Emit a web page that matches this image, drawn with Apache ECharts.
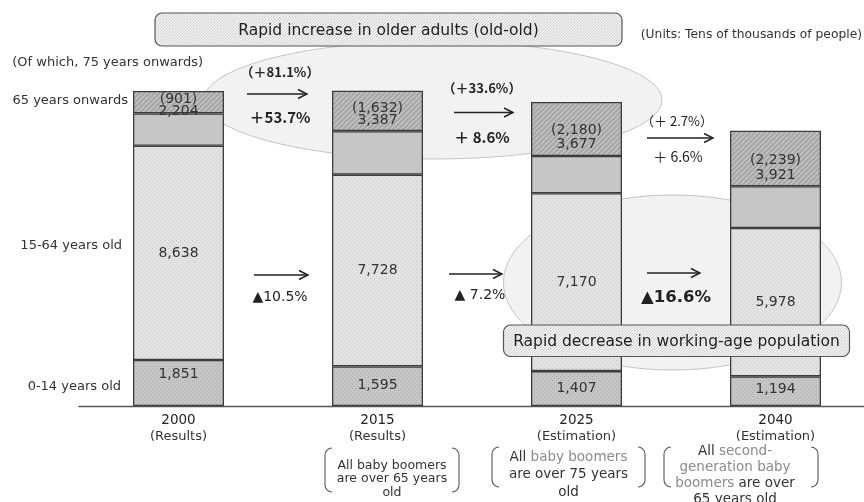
<!DOCTYPE html>
<html>
<head>
<meta charset="utf-8">
<script src="https://cdn.jsdelivr.net/npm/echarts@6/dist/echarts.min.js"></script>
<style>html,body{margin:0;padding:0;background:#fff}#c{width:864px;height:502px}</style>
</head>
<body>
<div id="c"></div>
<script>
// ---- data ----
const categories = ['2000', '2015', '2025', '2040'];
const categoryNotes = ['(Results)', '(Results)', '(Estimation)', '(Estimation)'];
const children = [1851, 1595, 1407, 1194];      // 0-14
const working = [8638, 7728, 7170, 5978];       // 15-64
const elderly65 = [2204, 3387, 3677, 3921];     // 65+
const old75 = [901, 1632, 2180, 2239];          // of which 75+
const rowLabels = ['(Of which, 75 years onwards)', '65 years onwards', '15-64 years old', '0-14 years old'];
const change75 = ['（＋81.1%）', '（＋33.6%）', '（＋ 2.7%）'];
const change65 = ['＋53.7%', '＋ 8.6%', '＋ 6.6%'];
const changeWork = ['▲10.5%', '▲ 7.2%', '▲16.6%'];
const titleTop = 'Rapid increase in older adults (old-old)';
const titleBottom = 'Rapid decrease in working-age population';
const unitsText = '(Units: Tens of thousands of people)';

const young65to74 = elderly65.map((v, i) => v - old75[i]);
const fmt = v => v.toLocaleString('en-US');

const F = '"DejaVu Sans", "Noto Sans CJK JP", sans-serif';
const FJ = '"Noto Sans CJK JP", "DejaVu Sans", sans-serif';

function pattern(w, h, draw) {
  const c = document.createElement('canvas');
  c.width = w; c.height = h;
  const g = c.getContext('2d');
  draw(g, w, h);
  return { image: c, repeat: 'repeat' };
}
function dots(bg, dot) {
  return pattern(4, 4, (g) => {
    g.fillStyle = bg; g.fillRect(0, 0, 4, 4);
    g.fillStyle = dot; g.fillRect(0, 0, 1, 1); g.fillRect(2, 2, 1, 1);
  });
}
function hatch(bg, line, step, lw) {
  return pattern(step, step, (g, w, h) => {
    g.fillStyle = bg; g.fillRect(0, 0, w, h);
    g.strokeStyle = line; g.lineWidth = lw || 1.2;
    g.beginPath();
    for (let k = -1; k <= 1; k++) {
      g.moveTo(k * w, h); g.lineTo(k * w + w, 0);
    }
    g.stroke();
  });
}
const pChildren = dots('#c6c6c6', '#a9a9a9');
const pWorking = dots('#e3e3e3', '#cacaca');
const p75 = hatch('#a6a6a6', '#c6c6c6', 5, 1.4);
const pBox = hatch('#fbfbfb', '#d2d2d2', 3);

const borderColor = '#3c3c3c';
const labelStyle = { color: '#333', fontSize: 14, fontFamily: F };

const childLabelOffset = [-9, -1, 0, -2];
const oldLabelOffset = [3, 3, 8, 9];
const oldLabelLH = [12, 12, 14, 15];

const chart = echarts.init(document.getElementById('c'), null, { renderer: 'canvas' });

function arrow(x1, x2, y) {
  return {
    type: 'group', z: 20, children: [
      { type: 'line', shape: { x1: x1, y1: y, x2: x2, y2: y }, style: { stroke: '#222', lineWidth: 1.4 } },
      { type: 'polyline', shape: { points: [[x2 - 9, y - 4.5], [x2, y], [x2 - 9, y + 4.5]] }, style: { stroke: '#222', lineWidth: 1.4, fill: null } }
    ]
  };
}
function txt(text, x, y, size, opts) {
  opts = opts || {};
  return {
    type: 'text', z: 20,
    style: {
      text: text, x: x, y: y,
      font: (opts.bold ? 'bold ' : '') + size + 'px ' + (opts.font || F),
      fill: opts.color || '#222',
      textAlign: opts.align || 'center', textVerticalAlign: 'middle'
    }
  };
}
function bracket(x0, x1, y0, y1) {
  const r = 7;
  const st = { stroke: '#555', lineWidth: 1.1, fill: null };
  const P = Math.PI;
  return {
    type: 'group', z: 20, children: [
      { type: 'arc', shape: { cx: x0 + r, cy: y0 + r, r: r, startAngle: P, endAngle: 1.5 * P, clockwise: true }, style: st },
      { type: 'line', shape: { x1: x0, y1: y0 + r, x2: x0, y2: y1 - r }, style: st },
      { type: 'arc', shape: { cx: x0 + r, cy: y1 - r, r: r, startAngle: 0.5 * P, endAngle: P, clockwise: true }, style: st },
      { type: 'arc', shape: { cx: x1 - r, cy: y0 + r, r: r, startAngle: 1.5 * P, endAngle: 2 * P, clockwise: true }, style: st },
      { type: 'line', shape: { x1: x1, y1: y0 + r, x2: x1, y2: y1 - r }, style: st },
      { type: 'arc', shape: { cx: x1 - r, cy: y1 - r, r: r, startAngle: 0, endAngle: 0.5 * P, clockwise: true }, style: st }
    ]
  };
}
function richText(x, y, lines, size, lh) {
  return {
    type: 'text', z: 20,
    style: {
      text: lines, x: x, y: y, textAlign: 'center', textVerticalAlign: 'top',
      font: size + 'px ' + F, lineHeight: lh, fill: '#333',
      rich: {
        d: { fill: '#333', font: size + 'px ' + F, lineHeight: lh },
        g: { fill: '#8a8a8a', font: size + 'px ' + F, lineHeight: lh }
      }
    }
  };
}

const option = {
  animation: false,
  grid: { left: 79, top: 9, width: 796, height: 397, outerBoundsMode: 'none', containLabel: false },
  xAxis: {
    type: 'category', data: categories,
    axisLine: { lineStyle: { color: '#555', width: 1.3 } },
    axisTick: { show: false },
    axisLabel: {
      margin: 6, interval: 0,
      formatter: (v, i) => '{y|' + v + '}\n{s|' + categoryNotes[i] + '}',
      rich: {
        y: { fontSize: 13.5, fontFamily: F, color: '#222', lineHeight: 16 },
        s: { fontSize: 13, fontFamily: F, color: '#333', lineHeight: 17 }
      }
    }
  },
  yAxis: { type: 'value', min: 0, max: 16000, show: false, splitLine: { show: false } },
  series: [
    {
      name: '0-14', type: 'bar', stack: 't', barWidth: 91, z: 5,
      data: children.map((v, i) => ({ value: v, label: { offset: [0, childLabelOffset[i]] } })),
      itemStyle: { color: pChildren, borderColor: borderColor, borderWidth: 1.3 },
      label: Object.assign({ show: true, position: 'inside', formatter: p => fmt(p.value) }, labelStyle)
    },
    {
      name: '15-64', type: 'bar', stack: 't', barWidth: 91, z: 5,
      data: working,
      itemStyle: { color: pWorking, borderColor: borderColor, borderWidth: 1.3 },
      label: Object.assign({ show: true, position: 'inside', formatter: p => fmt(p.value) }, labelStyle)
    },
    {
      name: '65-74', type: 'bar', stack: 't', barWidth: 91, z: 5,
      data: young65to74,
      itemStyle: { color: '#c6c6c6', borderColor: borderColor, borderWidth: 1.3 }
    },
    {
      name: '75+', type: 'bar', stack: 't', barWidth: 91, z: 5,
      data: old75.map((v, i) => ({ value: v, label: { offset: [0, oldLabelOffset[i]], lineHeight: oldLabelLH[i] } })),
      itemStyle: { color: p75, borderColor: borderColor, borderWidth: 1.3 },
      label: Object.assign({
        show: true, position: 'inside',
        formatter: p => '(' + fmt(old75[p.dataIndex]) + ')\n' + fmt(elderly65[p.dataIndex])
      }, labelStyle)
    }
  ],
  graphic: [
    { type: 'ellipse', z: 0, shape: { cx: 433, cy: 100, rx: 229, ry: 59 }, style: { fill: '#f2f2f2', stroke: '#c4c4c4', lineWidth: 1 } },
    { type: 'ellipse', z: 0, shape: { cx: 672.5, cy: 282.5, rx: 169, ry: 87.5 }, style: { fill: '#f2f2f2', stroke: '#c4c4c4', lineWidth: 1 } },
    { type: 'rect', z: 15, shape: { x: 155, y: 13, width: 467, height: 33, r: 7 }, style: { fill: pBox, stroke: '#555', lineWidth: 1.2 } },
    txt(titleTop, 388.5, 31, 15.5, { color: '#222' }),
    { type: 'rect', z: 15, shape: { x: 503.5, y: 325, width: 346, height: 31.5, r: 7 }, style: { fill: pBox, stroke: '#555', lineWidth: 1.2 } },
    txt(titleBottom, 676.5, 342, 15.5, { color: '#222' }),
    txt(unitsText, 862, 35, 12.3, { align: 'right', color: '#333' }),
    txt(rowLabels[0], 203, 63, 13, { align: 'right', color: '#333' }),
    txt(rowLabels[1], 128, 101, 13, { align: 'right', color: '#333' }),
    txt(rowLabels[2], 122, 246, 13, { align: 'right', color: '#333' }),
    txt(rowLabels[3], 121, 387, 13, { align: 'right', color: '#333' }),
    arrow(247, 307, 94),
    txt(change75[0], 280, 72, 13, { bold: true, font: FJ }),
    txt(change65[0], 280, 117, 15, { bold: true, font: FJ }),
    arrow(454, 513, 112.5),
    txt(change75[1], 482, 88, 13, { bold: true, font: FJ }),
    txt(change65[1], 482, 137, 15, { bold: true, font: FJ }),
    arrow(647, 713, 138),
    txt(change75[2], 677, 121, 13, { font: FJ }),
    txt(change65[2], 678, 157, 14, { font: FJ }),
    arrow(254, 308, 275),
    txt(changeWork[0], 280, 297, 14),
    arrow(449, 502, 274),
    txt(changeWork[1], 480, 295, 14),
    arrow(647, 700, 273),
    txt(changeWork[2], 676, 298, 16.5, { bold: true }),
    bracket(325, 459, 448, 492),
    richText(392, 459, '{d|All baby boomers}\n{d|are over 65 years}\n{d|old}', 12.5, 13.3),
    bracket(492, 645, 447, 487),
    richText(568.5, 449, '{d|All }{g|baby boomers}\n{d|are over 75 years}\n{d|old}', 13.5, 17.3),
    bracket(664, 818, 447, 487),
    richText(735, 444, '{d|All }{g|second-}\n{g|generation baby}\n{g|boomers }{d|are over}\n{d|65 years old}', 13.5, 15.8)
  ]
};
chart.setOption(option);
</script>
</body>
</html>
